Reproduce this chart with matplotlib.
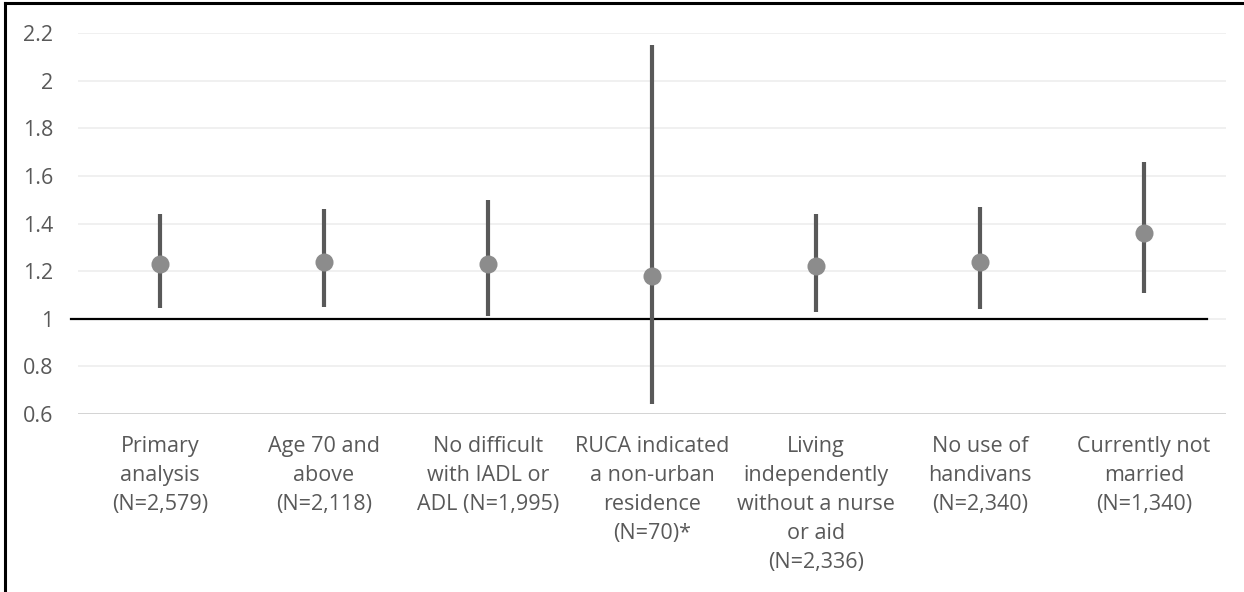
import matplotlib
matplotlib.use("Agg")
import matplotlib.pyplot as plt
from matplotlib.lines import Line2D

categories = [
    "Primary\nanalysis\n(N=2,579)",
    "Age 70 and\nabove\n(N=2,118)",
    "No difficult\nwith IADL or\nADL (N=1,995)",
    "RUCA indicated\na non-urban\nresidence\n(N=70)*",
    "Living\nindependently\nwithout a nurse\nor aid\n(N=2,336)",
    "No use of\nhandivans\n(N=2,340)",
    "Currently not\nmarried\n(N=1,340)",
]
estimate = [1.23, 1.24, 1.23, 1.18, 1.22, 1.24, 1.36]
upper = [1.44, 1.46, 1.50, 2.15, 1.44, 1.47, 1.66]
lower = [1.045, 1.05, 1.01, 0.64, 1.03, 1.04, 1.11]
yticks = [0.6, 0.8, 1, 1.2, 1.4, 1.6, 1.8, 2, 2.2]
ytick_labels = ["0.6", "0.8", "1", "1.2", "1.4", "1.6", "1.8", "2", "2.2"]

plt.rcParams['font.family'] = ['Open Sans', 'DejaVu Sans']
W, H = 1244, 592
fig = plt.figure(figsize=(W / 100, H / 100), dpi=100)
x0, x1 = 78, 1226
y_top, y_bot = 33, 414
ax = fig.add_axes([x0 / W, 1 - y_bot / H, (x1 - x0) / W, (y_bot - y_top) / H])

n = len(categories)
xs = list(range(n))
ax.set_xlim(-0.5, n - 0.5)
ax.set_ylim(0.6, 2.2)

for y in yticks:
    ax.axhline(y, color="#efefef" if y != 0.6 else "#d0d0d0", lw=1.3, zorder=0)

ax.vlines(xs, lower, upper, color="#595959", lw=3.0, zorder=2)
ax.plot(xs, estimate, "o", color="#8c8c8c", markersize=13, markeredgewidth=0, zorder=3)

# reference line at 1 (extends slightly left of plot area)
ax.add_line(Line2D([-0.5 - 7 / 164, n - 0.5 - 19 / 164], [1, 1], color="black", lw=1.6, zorder=1, clip_on=False))

for s in ax.spines.values():
    s.set_visible(False)
ax.set_yticks(yticks)
ax.set_yticklabels(ytick_labels)
ax.tick_params(axis="y", length=0, pad=18, labelsize=15.5, labelcolor="#595959")
ax.set_xticks(xs)
ax.set_xticklabels(categories, linespacing=1.49)
ax.tick_params(axis="x", length=0, pad=16, labelsize=15.5, labelcolor="#595959")
ax.set_facecolor("none")

# frame lines (left and top)
fig.add_artist(Line2D([5 / W, 5 / W], [0, 1 - 3 / H], color="black", lw=2.2, transform=fig.transFigure))
fig.add_artist(Line2D([5 / W, 1], [1 - 3 / H, 1 - 3 / H], color="black", lw=2.2, transform=fig.transFigure))

fig.savefig("out.png", dpi=100)
